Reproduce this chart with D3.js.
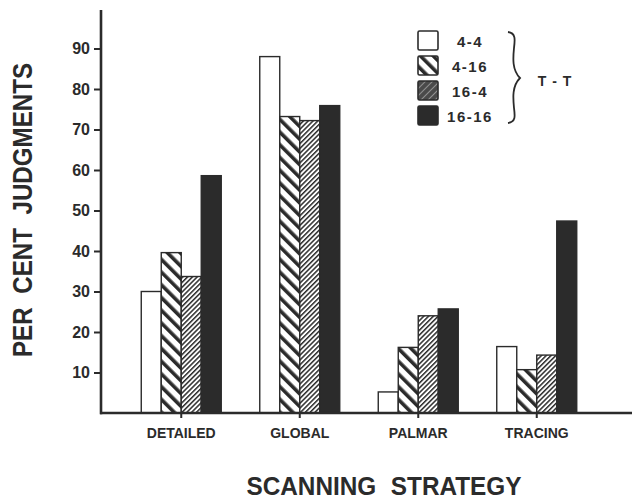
<!DOCTYPE html>
<html>
<head>
<meta charset="utf-8">
<script src="https://cdn.jsdelivr.net/npm/d3@7"></script>
<style>
  html, body { margin: 0; padding: 0; background: #fff; }
  svg { display: block; }
  text { font-family: "Liberation Sans", Arial, sans-serif; fill: #2b2b2b; }
</style>
</head>
<body>
<svg id="chart" width="632" height="502"></svg>
<script>
const categories = ["DETAILED", "GLOBAL", "PALMAR", "TRACING"];
const seriesNames = ["4-4", "4-16", "16-4", "16-16"];
const values44 = [30, 88, 5.2, 16.4];
const values416 = [39.6, 73.2, 16.2, 10.7];
const values164 = [33.7, 72.2, 24, 14.3];
const values1616 = [58.6, 75.9, 25.7, 47.4];
const yTicks = [10, 20, 30, 40, 50, 60, 70, 80, 90];
const yTitle = "PER CENT JUDGMENTS";
const xTitle = "SCANNING STRATEGY";
const groupLabel = "T - T";

const seriesValues = [values44, values416, values164, values1616];
const ink = "#2b2b2b";

const svg = d3.select("#chart");
const defs = svg.append("defs");

// pattern: thick backslash stripes (4-16)
const p1 = defs.append("pattern").attr("id", "pat416").attr("patternUnits", "userSpaceOnUse")
  .attr("width", 9).attr("height", 9).attr("patternTransform", "rotate(-45)");
p1.append("rect").attr("width", 9).attr("height", 9).attr("fill", "#fff");
p1.append("rect").attr("x", 0).attr("y", 0).attr("width", 3.6).attr("height", 9).attr("fill", ink);

// pattern: thin dense slash lines (16-4)
const p2 = defs.append("pattern").attr("id", "pat164").attr("patternUnits", "userSpaceOnUse")
  .attr("width", 3.4).attr("height", 3.4).attr("patternTransform", "rotate(45)");
p2.append("rect").attr("width", 3.4).attr("height", 3.4).attr("fill", "#fff");
p2.append("rect").attr("x", 0).attr("y", 0).attr("width", 1.5).attr("height", 3.4).attr("fill", ink);

// legend pattern for 16-4: dark with light lines
const p3 = defs.append("pattern").attr("id", "pat164L").attr("patternUnits", "userSpaceOnUse")
  .attr("width", 5).attr("height", 5).attr("patternTransform", "rotate(45)");
p3.append("rect").attr("width", 5).attr("height", 5).attr("fill", "#4a4a4a");
p3.append("rect").attr("x", 0).attr("y", 0).attr("width", 0.9).attr("height", 5).attr("fill", "#999");

const fills = ["#fff", "url(#pat416)", "url(#pat164)", ink];
const legendFills = ["#fff", "url(#pat416)", "url(#pat164L)", ink];

const y = d3.scaleLinear().domain([0, 100]).range([413, 8]);
const x0 = d3.scaleBand().domain(categories).range([122, 596]).paddingInner(0.325).paddingOuter(0.1625);
const x1 = d3.scaleBand().domain(seriesNames).range([0, x0.bandwidth()]);

// bars
const groups = svg.append("g").selectAll("g").data(categories).join("g")
  .attr("transform", d => `translate(${x0(d)},0)`);
groups.selectAll("rect")
  .data((c, ci) => seriesNames.map((s, si) => ({ s, si, v: seriesValues[si][ci] })))
  .join("rect")
  .attr("x", d => x1(d.s))
  .attr("y", d => y(d.v))
  .attr("width", x1.bandwidth())
  .attr("height", d => y(0) - y(d.v))
  .attr("fill", d => fills[d.si])
  .attr("stroke", ink)
  .attr("stroke-width", 1.4);

// y axis
const yAxis = d3.axisLeft(y).tickValues(yTicks).tickSize(7).tickPadding(4).tickFormat(d3.format("d"));
const gy = svg.append("g").attr("transform", "translate(101,0)").call(yAxis);
gy.select(".domain").remove();
gy.selectAll(".tick line").attr("stroke", ink).attr("stroke-width", 2);
gy.selectAll(".tick text").attr("font-size", 16).attr("font-weight", "bold").attr("fill", ink)
  .style("font-family", "'Liberation Sans', Arial, sans-serif");

svg.append("line").attr("x1", 101).attr("x2", 101).attr("y1", y(99.5)).attr("y2", y(0) + 1.2)
  .attr("stroke", ink).attr("stroke-width", 2.6);

// x axis
const xAxis = d3.axisBottom(x0).tickSize(5).tickPadding(10);
const gx = svg.append("g").attr("transform", `translate(0,${y(0)})`).call(xAxis);
gx.select(".domain").remove();
gx.selectAll(".tick line").attr("stroke", ink).attr("stroke-width", 2);
gx.selectAll(".tick text").attr("font-size", 14).attr("font-weight", "bold").attr("fill", ink)
  .style("font-family", "'Liberation Sans', Arial, sans-serif");

svg.append("line").attr("x1", 100).attr("x2", 632).attr("y1", y(0)).attr("y2", y(0))
  .attr("stroke", ink).attr("stroke-width", 2.6);

// titles
svg.append("text")
  .attr("transform", "translate(32,210) rotate(-90)")
  .attr("text-anchor", "middle")
  .attr("font-size", 28).attr("font-weight", "bold").attr("word-spacing", 8)
  .attr("textLength", 294).attr("lengthAdjust", "spacingAndGlyphs")
  .text(yTitle);

svg.append("text")
  .attr("x", 384).attr("y", 495)
  .attr("text-anchor", "middle")
  .attr("font-size", 25).attr("font-weight", "bold").attr("word-spacing", 8)
  .attr("textLength", 275).attr("lengthAdjust", "spacingAndGlyphs")
  .text(xTitle);

// legend
const legend = svg.append("g");
const lg = legend.selectAll("g").data(seriesNames).join("g")
  .attr("transform", (d, i) => `translate(418,${31 + i * 25})`);
lg.append("rect").attr("width", 20).attr("height", 19)
  .attr("fill", (d, i) => legendFills[i]).attr("stroke", ink).attr("stroke-width", 1.6).attr("rx", 1.5);
lg.append("text").attr("x", 52).attr("y", 15.5).attr("text-anchor", "middle")
  .attr("font-size", 15).attr("font-weight", "bold").attr("letter-spacing", 1.5)
  .text(d => d);

// brace
svg.append("path")
  .attr("d", "M508,32 C516,33 515,40 514,48 C513,58 512,70 520,78 C512,86 513,98 514,108 C515,116 516,122 508,123")
  .attr("fill", "none").attr("stroke", ink).attr("stroke-width", 1.8);

svg.append("text").attr("x", 555).attr("y", 86).attr("text-anchor", "middle")
  .attr("font-size", 14).attr("font-weight", "bold").attr("letter-spacing", 1)
  .text(groupLabel);
</script>
</body>
</html>
